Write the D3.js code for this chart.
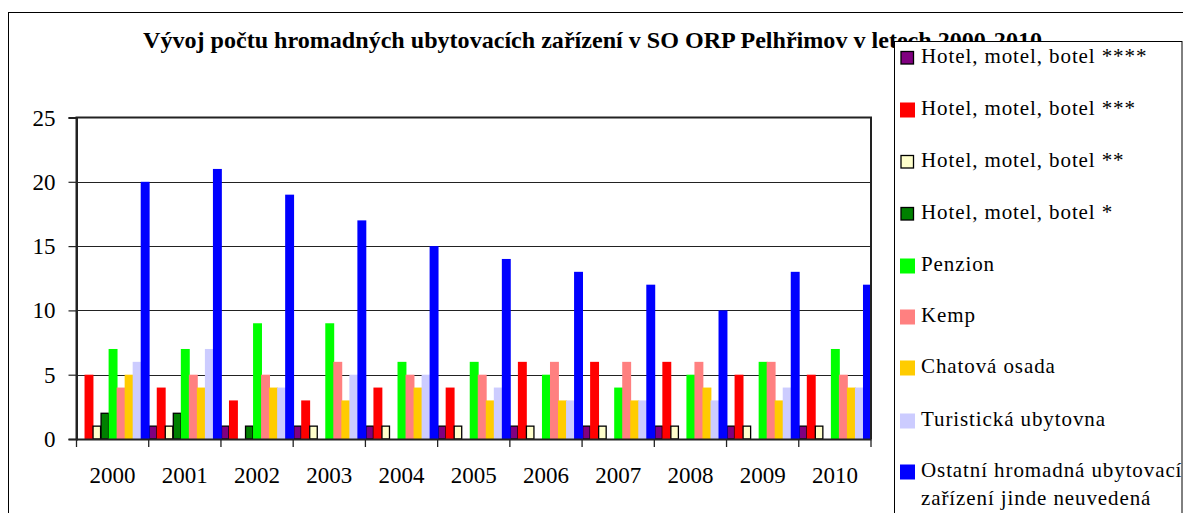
<!DOCTYPE html>
<html><head><meta charset="utf-8">
<script src="https://cdn.jsdelivr.net/npm/d3@7"></script>
<style>html,body{margin:0;padding:0;background:#fff;overflow:hidden}
svg text{font-family:"Liberation Serif","Times New Roman",Times,"DejaVu Serif",serif;}</style>
</head><body>
<svg id="c" width="1183" height="513"></svg>
<script>
const years = ["2000","2001","2002","2003","2004","2005","2006","2007","2008","2009","2010"];
const seriesNames = ["Hotel, motel, botel ****","Hotel, motel, botel ***","Hotel, motel, botel **","Hotel, motel, botel *","Penzion","Kemp","Chatová osada","Turistická ubytovna","Ostatní hromadná ubytovací|zařízení jinde neuvedená"];
const hotel4 = [0,1,1,1,1,1,1,1,1,1,1];
const hotel3 = [5,4,3,3,4,4,6,6,6,5,5];
const hotel2 = [1,1,0,1,1,1,1,1,1,1,1];
const hotel1 = [2,2,1,0,0,0,0,0,0,0,0];
const penzion = [7,7,9,9,6,6,5,4,5,6,7];
const kemp = [4,5,5,6,5,5,6,6,6,6,5];
const chatova = [5,4,4,3,4,3,3,3,4,3,4];
const turisticka = [6,7,4,5,5,4,3,3,3,4,4];
const ostatni = [20,21,19,17,15,14,13,12,10,13,12];
const yTicks = [0,5,10,15,20,25];
const colors = ["#800080","#FF0000","#FFFFCC","#008000","#00FF00","#FF8080","#FFCC00","#CCCCFF","#0000FF"];
const outlined = [true,false,true,true,false,false,false,false,false];
const title = "Vývoj počtu hromadných ubytovacích zařízení v SO ORP Pelhřimov v letech 2000-2010";

const series = [hotel4,hotel3,hotel2,hotel1,penzion,kemp,chatova,turisticka,ostatni];

const svg = d3.select("#c");

// outer frame
svg.append("rect").attr("x",8.5).attr("y",12.5).attr("width",1300).attr("height",600)
  .attr("fill","#fff").attr("stroke","#000").attr("stroke-width",1);

const L=76.5, R=871, T=117.5, B=439;
const x0 = d3.scaleBand().domain(years).range([L,R]).paddingInner(0).paddingOuter(0);
const x1 = d3.scaleBand().domain(d3.range(9)).range([0,x0.bandwidth()]).padding(0);
const y = d3.scaleLinear().domain([0,25]).range([B,T]);

// gridlines
svg.append("g").selectAll("line").data(yTicks.filter(d=>d>0 && d<25)).join("line")
  .attr("x1",L).attr("x2",R).attr("y1",d=>Math.round(y(d))+0.5).attr("y2",d=>Math.round(y(d))+0.5)
  .attr("stroke","#222").attr("stroke-width",1.2);

// bars
const g = svg.append("g");
series.forEach((vals,si)=>{
  g.append("g").selectAll("rect").data(vals.map((v,i)=>({v,year:years[i]}))).join("rect")
   .attr("x",d=>x0(d.year)+x1(si)+(outlined[si]?0.5:0))
   .attr("y",d=>y(d.v))
   .attr("width",outlined[si]?x1.bandwidth()-0.5:x1.bandwidth()+0.9)
   .attr("height",d=>B-y(d.v))
   .attr("fill",colors[si])
   .attr("stroke",outlined[si]?"#000":"none")
   .attr("stroke-width",1.3)
   .style("display",d=>d.v>0?null:"none");
});

// plot border
svg.append("path").attr("d",`M${L},${B}V${T}H${R}V${B}`).attr("fill","none")
  .attr("stroke","#222").attr("stroke-width",2);

// y axis
const yAxis = d3.axisLeft(y).tickValues(yTicks).tickSize(8).tickPadding(13).tickFormat(d3.format("d"));
const ya = svg.append("g").attr("transform",`translate(${L},0)`).call(yAxis);
ya.attr("font-family",null);
ya.select(".domain").attr("stroke","#222").attr("stroke-width",2);
ya.selectAll(".tick line").attr("stroke","#222").attr("stroke-width",1.2);
ya.selectAll("text").attr("font-size",23).attr("fill","#000").attr("dy","0.33em");

// x axis
const xa = svg.append("g").attr("transform",`translate(0,${B})`).call(d3.axisBottom(x0).tickSize(0).tickPadding(0));
xa.attr("font-family",null);
xa.select(".domain").attr("stroke","#222").attr("stroke-width",2);
xa.selectAll("text").attr("font-size",23).attr("fill","#000").attr("y",43.5).attr("dy",0);
xa.selectAll(".tick line").remove();
svg.append("g").selectAll("line").data(years.concat(["end"])).join("line")
  .attr("x1",(d,i)=>i<years.length?x0(d):R).attr("x2",(d,i)=>i<years.length?x0(d):R)
  .attr("y1",B).attr("y2",B+8).attr("stroke","#222").attr("stroke-width",1.3);

// title
svg.append("text").attr("x",143).attr("y",48).attr("font-weight","bold")
  .attr("font-size",24).attr("textLength",899).attr("lengthAdjust","spacingAndGlyphs").text(title);

// legend
svg.append("rect").attr("x",894.5).attr("y",41.5).attr("width",287.5).attr("height",600)
  .attr("fill","#fff").attr("stroke","#000").attr("stroke-width",1);
const legBase = [63,115,167,219,271,322,373,426,477];
const lg = svg.append("g");
seriesNames.forEach((name,i)=>{
  const by = legBase[i];
  if(outlined[i]){
    lg.append("rect").attr("x",901).attr("y",by-11.5).attr("width",12.5).attr("height",12.5)
      .attr("fill",colors[i]).attr("stroke","#000").attr("stroke-width",1.3);
  } else {
    lg.append("rect").attr("x",900).attr("y",by-12.5).attr("width",15).attr("height",15).attr("fill",colors[i]);
  }
  const t = lg.append("text").attr("x",921).attr("y",by).attr("font-size",21)
    .attr("letter-spacing","0.9px").attr("fill","#000");
  name.split("|").forEach((ln,k)=>{
    t.append("tspan").attr("x",921).attr("dy",k===0?0:28).text(ln);
  });
});
</script>
</body></html>
